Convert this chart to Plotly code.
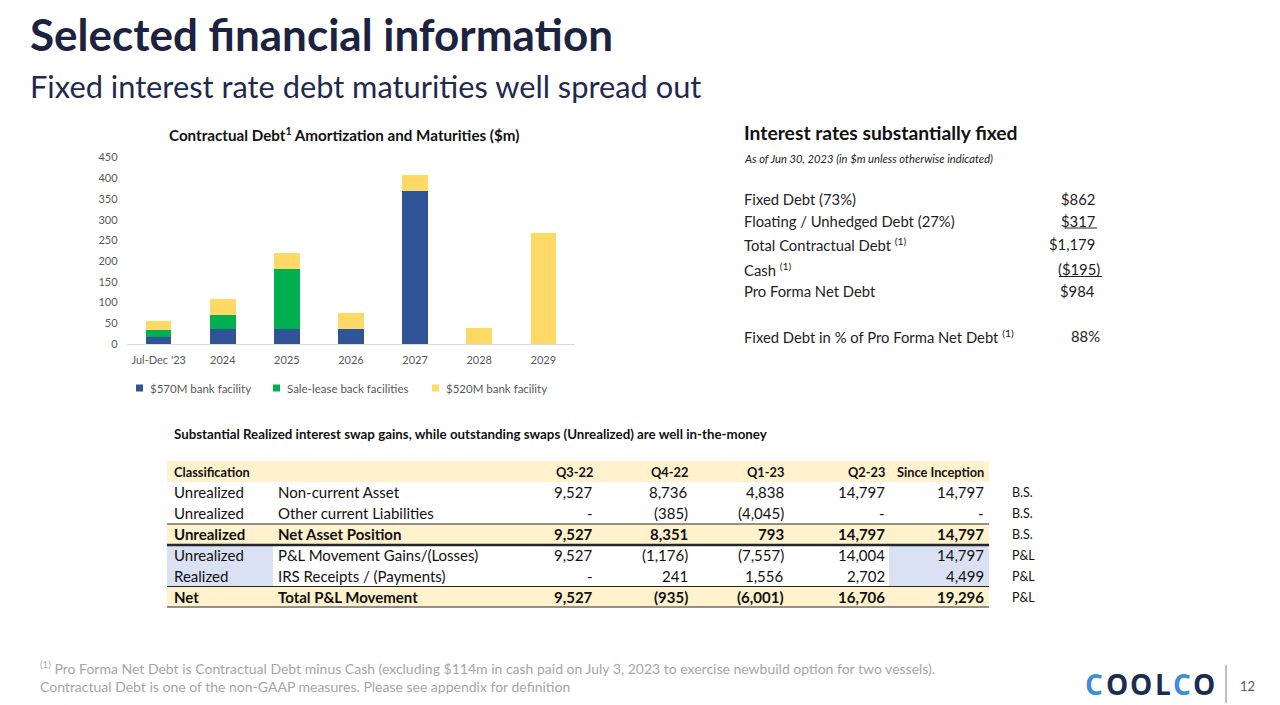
import plotly.graph_objects as go

W, H = 1280, 705
FONT = "Lato, 'Open Sans', sans-serif"

# ---------------- data ----------------
categories = ["Jul-Dec '23", "2024", "2025", "2026", "2027", "2028", "2029"]
bank_570 = [18, 35, 35, 36, 370, 0, 0]
sale_leaseback = [16, 36, 145, 0, 0, 0, 0]
bank_520 = [21, 38, 39, 40, 38, 38, 267]
series_names = ["$570M bank facility", "Sale-lease back facilities", "$520M bank facility"]
y_ticks = [0, 50, 100, 150, 200, 250, 300, 350, 400, 450]

rate_labels = ["Fixed Debt (73%)", "Floating / Unhedged Debt (27%)",
               "Total Contractual Debt <sup>(1)</sup>", "Cash <sup>(1)</sup>",
               "Pro Forma Net Debt", "Fixed Debt in % of Pro Forma Net Debt <sup>(1)</sup>"]
rate_values = ["$862", "$317", "$1,179", "($195)", "$984", "88%"]

tbl_header = ["Classification", "", "Q3-22", "Q4-22", "Q1-23", "Q2-23", "Since Inception"]
tbl_class = ["Unrealized", "Unrealized", "Unrealized", "Unrealized", "Realized", "Net"]
tbl_desc = ["Non-current Asset", "Other current Liabilities", "Net Asset Position",
            "P&L Movement Gains/(Losses)", "IRS Receipts / (Payments)", "Total P&L Movement"]
q3_22 = ["9,527", "-", "9,527", "9,527", "-", "9,527"]
q4_22 = ["8,736", "(385)", "8,351", "(1,176)", "241", "(935)"]
q1_23 = ["4,838", "(4,045)", "793", "(7,557)", "1,556", "(6,001)"]
q2_23 = ["14,797", "-", "14,797", "14,004", "2,702", "16,706"]
since_inception = ["14,797", "-", "14,797", "14,797", "4,499", "19,296"]
statement = ["B.S.", "B.S.", "B.S.", "P&L", "P&L", "P&L"]

logo_letters = ["C", "O", "O", "L", "C", "O"]


def px(x):
    return x / W


def py(y):
    return 1 - y / H


colors = ["#2F5597", "#00B050", "#FFD966"]

fig = go.Figure()
for name, vals, c in zip(series_names, [bank_570, sale_leaseback, bank_520], colors):
    fig.add_trace(go.Bar(x=categories, y=vals, name=name, marker=dict(color=c, line=dict(width=0)),
                         showlegend=False))

ann = []
shapes = []


def text(x, y, s, size, color="#222222", xanchor="left", bold=False, italic=False, family=FONT):
    if bold:
        s = "<b>" + s + "</b>"
    if italic:
        s = "<i>" + s + "</i>"
    ann.append(dict(x=px(x), y=py(y), xref="paper", yref="paper", text=s, showarrow=False,
                    xanchor=xanchor, yanchor="middle", font=dict(size=size, color=color, family=family)))


def rect(x0, y0, x1, y1, color):
    shapes.append(dict(type="rect", xref="paper", yref="paper", x0=px(x0), x1=px(x1), y0=py(y1), y1=py(y0),
                       fillcolor=color, line=dict(width=0), layer="below"))


def hline(x0, x1, y, color, width):
    shapes.append(dict(type="line", xref="paper", yref="paper", x0=px(x0), x1=px(x1), y0=py(y), y1=py(y),
                       line=dict(color=color, width=width)))


# ---------------- titles ----------------
text(28, 34, "Selected financial information", 44, "#1C2340", bold=True)
text(28, 87, "Fixed interest rate debt maturities well spread out", 30.8, "#1F2A4E")

# chart title
text(344, 134, "Contractual Debt<sup>1</sup> Amortization and Maturities ($m)", 15.2, "#111111",
     xanchor="center", bold=True)

# manual legend
legend_x = [136, 273, 432]
for name, c, lx in zip(series_names, colors, legend_x):
    rect(lx, 384.5, lx + 7, 391.5, c)
    text(lx + 12, 388, name, 11.5, "#595959")

# ---------------- right panel ----------------
text(742, 132, "Interest rates substantially fixed", 19.3, "#111111", bold=True)
text(742, 158, "As of Jun 30, 2023 (in $m unless otherwise indicated)", 11.2, "#222222", italic=True)
row_y = [199, 221, 244, 269, 291, 336]
for lab, val, yy in zip(rate_labels, rate_values, row_y):
    text(742, yy, lab, 14.8, "#222222")
    xr = 1102 if (val.startswith("(") or val.endswith("%")) else 1097
    text(xr, yy, val, 14.8, "#222222", xanchor="right")
hline(1065, 1097, 228, "#222222", 1)
hline(1059, 1102, 276.5, "#222222", 1)

# ---------------- table ----------------
text(172, 434, "Substantial Realized interest swap gains, while outstanding swaps (Unrealized) are well in-the-money",
     13.3, "#111111", bold=True)
# bands
rect(167, 461, 989, 482, "#FFF2CC")
rect(167, 524, 989, 544, "#FFF2CC")
rect(167, 587, 989, 607, "#FFF2CC")
rect(167, 546, 273, 586, "#D9E1F2")
rect(889, 546, 989, 586, "#D9E1F2")
hline(167, 989, 524, "#262626", 1)
hline(167, 989, 545, "#262626", 2.5)
hline(167, 989, 586.5, "#262626", 1)
hline(167, 989, 607, "#262626", 1)

col_left = [172, 276]
col_right = [595, 690, 786, 887, 986]
header_y = 471.5
for i, h in enumerate(tbl_header):
    if not h:
        continue
    if i < 2:
        text(col_left[i], header_y, h, 12.8, "#111111", bold=True)
    else:
        text(col_right[i - 2], header_y, h, 12.8, "#111111", xanchor="right", bold=True)

tbl_row_y = [492.5, 513, 534, 555, 576, 597]
bold_rows = {2, 5}
num_cols = [q3_22, q4_22, q1_23, q2_23, since_inception]
for r, yy in enumerate(tbl_row_y):
    b = r in bold_rows
    text(col_left[0], yy, tbl_class[r], 15, "#111111", bold=b)
    text(col_left[1], yy, tbl_desc[r], 15, "#111111", bold=b)
    for c, col in enumerate(num_cols):
        text(col_right[c], yy, col[r], 15, "#111111", xanchor="right", bold=b)
    text(1010, yy, statement[r], 12.5, "#111111")

# ---------------- footer ----------------
text(38, 667, "<sup>(1)</sup> Pro Forma Net Debt is Contractual Debt minus Cash (excluding $114m in cash paid on July 3, 2023 "
              "to exercise newbuild option for two vessels).", 14, "#A6A6A6")
text(38, 686, "Contractual Debt is one of the non-GAAP measures. Please see appendix for definition", 14, "#A6A6A6")

# logo (text approximation)
logo_x = [1083, 1103.5, 1128, 1152.5, 1170.5, 1191]
logo_colors = ["#3D8FD9", "#1C2D4F", "#1C2D4F", "#1C2D4F", "#3D8FD9", "#1C2D4F"]
for letter, lx, lc in zip(logo_letters, logo_x, logo_colors):
    text(lx, 684, letter, 28, lc, bold=True, family="'Open Sans', sans-serif")
shapes.append(dict(type="line", xref="paper", yref="paper", x0=px(1226), x1=px(1226), y0=py(665), y1=py(703),
                   line=dict(color="#7F7F7F", width=1)))
text(1247, 686, "12", 13, "#595959", xanchor="center")

fig.update_layout(
    template="none",
    width=W, height=H, margin=dict(l=0, r=0, t=0, b=0, pad=0, autoexpand=False),
    paper_bgcolor="white", plot_bgcolor="white",
    barmode="stack", bargap=0.6, showlegend=False,
    font=dict(family=FONT),
    xaxis=dict(type="category", domain=[px(126.6), px(575.4)], showline=True, linecolor="#D9D9D9", linewidth=1,
               showgrid=False, ticks="", tickfont=dict(size=11, color="#595959"), ticklabelstandoff=6,
               automargin=False, fixedrange=True),
    yaxis=dict(domain=[py(344), py(157.5)], range=[0, 450], tickvals=y_ticks, showgrid=False, zeroline=False,
               showline=False, ticks="", tickfont=dict(size=11, color="#595959"), ticklabelstandoff=8,
               automargin=False, fixedrange=True),
    annotations=ann, shapes=shapes,
)

fig.write_html("out.html", config={"displayModeBar": False},
               post_script="document.body.style.margin='0';document.body.style.overflow='hidden';")
